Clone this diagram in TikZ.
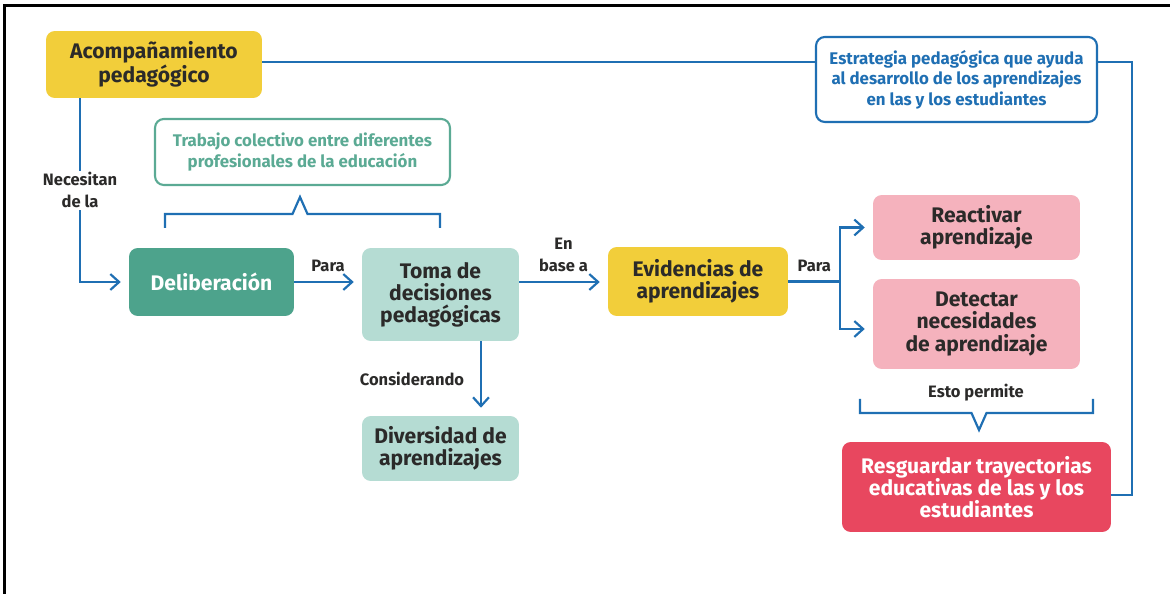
\documentclass[tikz,border=0pt]{standalone}
\usepackage{fontspec}
\setmainfont{Fira Sans}
\usepackage{tikz}
\usetikzlibrary{arrows.meta,positioning}

\definecolor{amarillo}{HTML}{F2CE3A}
\definecolor{verdeosc}{HTML}{4DA38C}
\definecolor{verdecla}{HTML}{B5DCD3}
\definecolor{verdelin}{HTML}{5BAA94}
\definecolor{rosado}{HTML}{F5B2BD}
\definecolor{rojo}{HTML}{E8475F}
\definecolor{azul}{HTML}{1F6FB3}
\definecolor{tinta}{HTML}{2B2A29}

\tikzset{
  caja/.style={rectangle, rounded corners=5pt, align=center, inner sep=2pt,
    text=tinta, font=\bfseries\fontsize{12}{12.6}\selectfont},
  nota/.style={caja, fill=white, line width=1.2pt,
    font=\bfseries\fontsize{9.6}{11.6}\selectfont},
  etiq/.style={align=center, text=tinta, inner sep=1pt,
    font=\bfseries\fontsize{9.4}{12.5}\selectfont},
  linea/.style={draw=azul, line width=1.25pt},
  flecha/.style={linea, -{Straight Barb[length=5pt,width=9pt]}, shorten >=4.5pt},
  llave/.style={draw=azul, line width=1.25pt, line join=miter}
}

\begin{document}
\begin{tikzpicture}[x=0.02cm, y=-0.02cm]
\useasboundingbox (0,0) rectangle (1170,594);
% frame
\draw[line width=1.4pt] (4.5,594) -- (4.5,5.5) -- (1170,5.5);

% boxes
\node[caja, fill=amarillo, minimum width=4.32cm, minimum height=1.34cm] (acomp) at (154,64.5) {Acompañamiento\\pedagógico};
\node[nota, draw=azul, text=azul, minimum width=5.62cm, minimum height=1.70cm] (estrategia) at (956.5,79.5) {Estrategia pedagógica que ayuda\\al desarrollo de los aprendizajes\\en las y los estudiantes};
\node[nota, draw=verdelin, text=verdelin, minimum width=5.90cm, minimum height=1.32cm] (trabajo) at (302.5,152) {Trabajo colectivo entre diferentes\\profesionales de la educación};
\node[caja, fill=verdeosc, text=white, minimum width=3.30cm, minimum height=1.36cm] (delib) at (211.5,282) {Deliberación};
\node[caja, fill=verdecla, minimum width=3.14cm, minimum height=1.86cm] (toma) at (440.5,294.5) {Toma de\\decisiones\\pedagógicas};
\node[caja, fill=verdecla, minimum width=3.14cm, minimum height=1.30cm] (divers) at (440.5,448.5) {Diversidad de\\aprendizajes};
\node[caja, fill=amarillo, minimum width=3.60cm, minimum height=1.38cm] (evid) at (698,281.5) {Evidencias de\\aprendizajes};
\node[caja, fill=rosado, minimum width=4.14cm, minimum height=1.30cm] (react) at (976.5,227.5) {Reactivar\\aprendizaje};
\node[caja, fill=rosado, minimum width=4.14cm, minimum height=1.80cm] (detect) at (976.5,324) {Detectar\\necesidades\\de aprendizaje};
\node[caja, fill=rojo, text=white, minimum width=5.38cm, minimum height=1.80cm] (resg) at (976.5,487) {Resguardar trayectorias\\educativas de las y los\\estudiantes};

% connectors
\coordinate (riel) at (1132,62);
\draw[linea] (acomp.east |- riel) -- (estrategia.west |- riel);
\draw[linea] (estrategia.east |- riel) -- (riel) |- ([yshift=-0.16cm]resg.east);
\draw[flecha] ([xshift=-1.48cm]acomp.south) |- node[pos=0.25, etiq, fill=white] {Necesitan\\de la} (delib.west);
\draw[flecha] (delib.east) -- node[etiq, above=4pt] {Para} (toma.west |- delib.east);
\draw[flecha] (toma.east |- delib.east) -- node[etiq, above=4pt] {En\\base a} (evid.west |- delib.east);
\draw[flecha] ([xshift=0.81cm]toma.south) -- node[etiq, left=8pt] {Considerando} ([xshift=0.81cm]divers.north);
\draw[linea] (evid.east) -- node[etiq, above=4pt] {Para} ++(52,0) coordinate (cruce);
\draw[flecha] (cruce) |- (react.west);
\draw[flecha] (cruce) |- ([yshift=-0.1cm]detect.west);

% braces
\draw[llave] (165,228) -- (165,214) -- (292.5,214) -- (300,197) -- (307.5,214) -- (440,214) -- (440,228);
\draw[llave] (860,399) -- (860,413) -- (971.5,413) -- (979,430) -- (986.5,413) -- (1093,413) -- (1093,399);
\node[etiq] (permite) at (976,393) {Esto permite};
\end{tikzpicture}
\end{document}
